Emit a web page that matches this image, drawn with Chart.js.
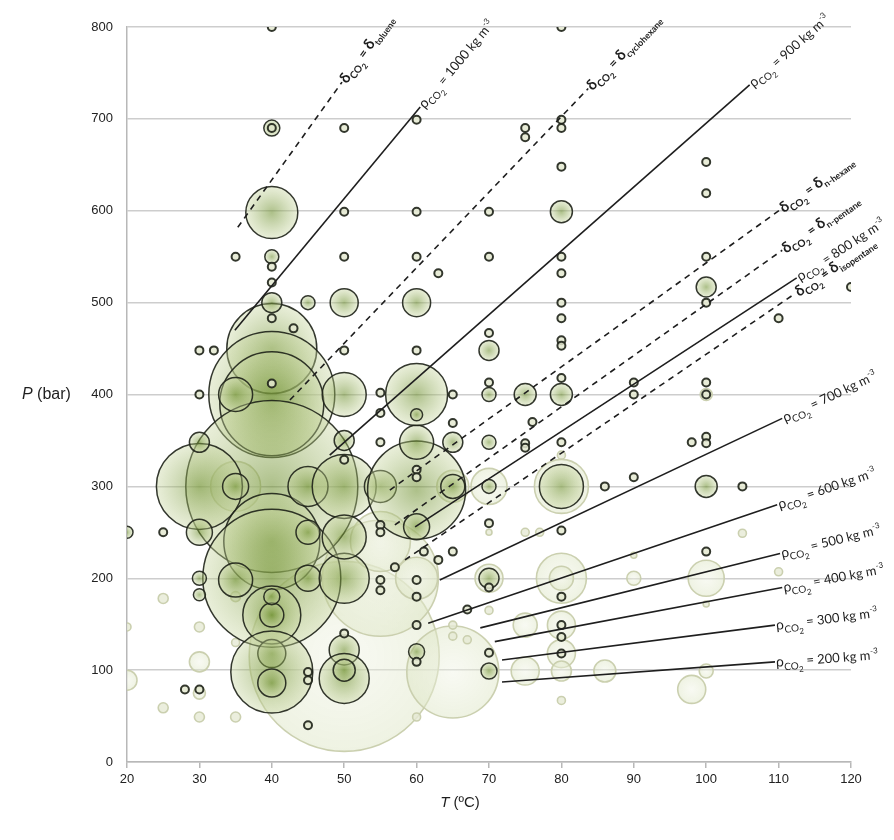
<!DOCTYPE html>
<html>
<head>
<meta charset="utf-8">
<script src="https://cdn.jsdelivr.net/npm/chart.js@4.4.1/dist/chart.umd.min.js"></script>
<style>
  html, body { margin: 0; padding: 0; background: #fff; }
  #wrap { width: 894px; height: 840px; position: relative; }
</style>
</head>
<body>
<div id="wrap"><canvas id="myChart" width="894" height="840"></canvas></div>
<script>
// axis ticks
const tempTicks = [20, 30, 40, 50, 60, 70, 80, 90, 100, 110, 120];
const pressTicks = [0, 100, 200, 300, 400, 500, 600, 700, 800];

// experiments with dark outline: [T (ºC), P (bar), bubble size]
const runsDark = [
  [40,450,45],[40,400,63],[40,390,52],[40,300,86],[30,300,43],[40,240,48],[40,200,69],
  [40,160,29],[40,160,12],[40,118,14],[40,98,41],[40,86,14],[35,400,17],[50,400,22],
  [40,500,10],[45,500,7],[50,500,14],[60,500,14],[30,348,10],[50,350,10],[35,300,13],
  [45,300,20],[50,300,32],[55,300,16],[60,296,49],[60,256,13],[60,348,17],[65,348,10],
  [60,400,31],[65,300,12],[70,300,7],[80,300,22],[100,300,11],[30,250,13],[35,198,17],
  [45,200,13],[50,200,25],[50,245,22],[50,122,15],[50,91,25],[50,100,11],[40,598,26],
  [80,599,11],[100,517,10],[70,448,10],[70,400,7],[75,400,11],[80,400,11],[70,348,7],
  [70,200,10],[60,120,8],[70,99,8],[40,690,8],[40,550,7],[60,378,6],[20,250,6],
  [30,200,7],[30,182,6],[40,180,8],[45,250,12],
  [40,800,4],[80,800,4],[40,690,4],[50,690,4],[60,699,4],[75,690,4],[75,680,4],[80,699,4],
  [80,690,4],[80,648,4],[100,653,4],[100,619,4],[50,599,4],[60,599,4],[70,599,4],[35,550,4],
  [40,539,4],[40,522,4],[50,550,4],[60,550,4],[70,550,4],[80,550,4],[63,532,4],[80,532,4],
  [100,550,4],[80,500,4],[100,500,4],[80,483,4],[110,483,4],[70,467,4],[80,459,4],[80,453,4],
  [60,448,4],[30,448,4],[32,448,4],[50,448,4],[40,483,4],[43,472,4],[40,412,4],[55,402,4],
  [55,380,4],[65,400,4],[65,369,4],[70,413,4],[76,370,4],[80,418,4],[90,413,4],[90,400,4],
  [100,413,4],[100,400,4],[55,348,4],[75,347,4],[75,342,4],[80,348,4],[98,348,4],[100,354,4],
  [100,347,4],[90,310,4],[50,329,4],[60,318,4],[60,310,4],[86,300,4],[105,300,4],[55,258,4],
  [55,250,4],[70,260,4],[80,252,4],[25,250,4],[61,229,4],[65,229,4],[63,220,4],[57,212,4],
  [55,198,4],[55,187,4],[60,198,4],[60,180,4],[80,180,4],[70,190,4],[100,229,4],[67,166,4],
  [60,149,4],[80,149,4],[80,136,4],[80,118,4],[70,119,4],[60,109,4],[50,140,4],[45,98,4],
  [45,89,4],[28,79,4],[30,79,4],[45,40,4],[120,517,4],[30,400,4]
];

// experiments with pale outline: [T (ºC), P (bar), bubble size]
const runsPale = [
  [50,115,95],[65,98,46],[55,200,58],[55,240,30],[60,200,21],[70,300,18],[80,300,27],
  [65,300,16],[80,200,25],[80,200,12],[70,200,14],[100,200,18],[90,200,7],[75,149,12],
  [80,149,14],[80,118,14],[75,99,14],[80,99,10],[86,99,11],[100,99,7],[98,79,14],
  [35,300,25],[20,89,10],[30,109,10],[30,75,6],[25,178,5],[30,147,5],[20,147,4],
  [25,59,5],[30,49,5],[35,49,5],[35,180,5],[35,130,4],[80,67,4],[60,49,4],[65,149,4],
  [65,137,4],[67,133,4],[70,165,4],[75,250,4],[77,250,4],[70,250,3],[80,334,4],
  [105,249,4],[110,207,4],[90,225,3],[100,172,3],[100,400,6]
];

// reference lines: density isochores (numbers) and solubility-parameter matches (solvents)
const lineNames  = ['toluene','1000','cyclohexane','900','n-hexane','n-pentane','800','isopentane','700','600','500','400','300','200'];
const lineStartT = [35.3, 34.9, 42.5, 48.0, 56.3, 57.0, 59.8, 58.4, 63.2, 61.6, 68.8, 70.8, 71.8, 71.8];
const lineStartP = [582, 470, 394, 334, 296, 258, 256, 220, 198, 151, 146, 131, 111, 87];
const lineEndT   = [49.7, 60.5, 83.7, 106.0, 110.2, 110.5, 112.5, 112.3, 110.5, 109.8, 110.2, 110.5, 109.5, 109.5];
const lineEndP   = [740, 713, 733, 737, 601, 557, 527, 510, 374, 280, 227, 190, 149, 109];

const isDensity = (name) => /^\d+$/.test(name);

function bubbleFill(c, inner, outer, smallFill) {
  if (c.type !== 'data' || !c.raw) return outer;
  const r = c.raw.r;
  if (r <= 5) return smallFill;
  const sx = c.chart.scales.x, sy = c.chart.scales.y;
  if (!sx || !sy) return outer;
  const x = sx.getPixelForValue(c.raw.x), y = sy.getPixelForValue(c.raw.y);
  if (!Number.isFinite(x) || !Number.isFinite(y)) return outer;
  const g = c.chart.ctx.createRadialGradient(x, y, 0, x, y, r);
  g.addColorStop(0, inner);
  g.addColorStop(1, outer);
  return g;
}

const toPts = (arr) => arr.map(([x, y, r]) => ({ x: x, y: y, r: r }));

const datasets = [];
lineNames.forEach((name, i) => {
  datasets.push({
    type: 'line',
    label: name,
    data: [{ x: lineStartT[i], y: lineStartP[i] }, { x: lineEndT[i], y: lineEndP[i] }],
    borderColor: '#1e1e1e',
    borderWidth: 1.6,
    borderDash: isDensity(name) ? [] : [6, 5],
    pointRadius: 0,
    fill: false,
    tension: 0,
    clip: false,
    order: 0
  });
});
datasets.push({
  label: 'dark',
  data: toPts(runsDark),
  backgroundColor: (c) => bubbleFill(c, 'rgba(105,140,40,0.55)', 'rgba(200,214,160,0.4)', 'rgba(228,233,208,0.85)'),
  borderColor: 'rgba(30,34,24,0.9)',
  borderWidth: (c) => (c.raw && c.raw.r <= 5 ? 2 : 1.5),
  order: 1
});
datasets.push({
  label: 'pale',
  data: toPts(runsPale),
  backgroundColor: (c) => bubbleFill(c, 'rgba(240,243,228,0.45)', 'rgba(222,230,198,0.5)', 'rgba(230,234,212,0.8)'),
  borderColor: 'rgba(200,206,172,0.95)',
  borderWidth: 1.6,
  order: 2
});

const labelFamily = 'Lato, "Open Sans", sans-serif';
const axisFamily = '"Liberation Sans", Arial, sans-serif';

function drawRich(ctx, parts) {
  let x = 0;
  for (const [t, size, dy, weight] of parts) {
    ctx.font = (weight || '') + ' ' + size + 'px ' + labelFamily;
    ctx.fillText(t, x, dy);
    x += ctx.measureText(t).width;
  }
}

const overlayPlugin = {
  id: 'overlay',
  afterDraw(chart) {
    const ctx = chart.ctx, sx = chart.scales.x, sy = chart.scales.y;
    ctx.save();
    ctx.fillStyle = '#1e1e1e';
    ctx.textBaseline = 'alphabetic';
    ctx.textAlign = 'left';
    lineNames.forEach((name, i) => {
      const x1 = sx.getPixelForValue(lineStartT[i]), y1 = sy.getPixelForValue(lineStartP[i]);
      const x2 = sx.getPixelForValue(lineEndT[i]), y2 = sy.getPixelForValue(lineEndP[i]);
      const a = Math.atan2(y2 - y1, x2 - x1);
      ctx.save();
      ctx.translate(x2, y2);
      ctx.rotate(a);
      ctx.translate(1, 5);
      if (isDensity(name)) {
        drawRich(ctx, [['ρ',14,0,''],['CO',10,4,''],['2',8,7,''],[' = ' + name + ' kg m',13,0,''],['-3',8,-6,'']]);
      } else {
        drawRich(ctx, [['δ',15,0,'bold'],['CO',10,4,'bold'],['2',8,7,'bold'],[' = ',13,0,'bold'],['δ',15,0,'bold'],[name,9,4,'bold']]);
      }
      ctx.restore();
    });
    // axis titles
    ctx.textBaseline = 'middle';
    ctx.font = 'italic 16px ' + axisFamily;
    const yMid = sy.getPixelForValue(400);
    ctx.fillText('P', 22, yMid);
    let w = ctx.measureText('P').width;
    ctx.font = '16px ' + axisFamily;
    ctx.fillText(' (bar)', 22 + w, yMid);
    const xMid = sx.getPixelForValue(66);
    ctx.font = 'italic 15px ' + axisFamily;
    const wT = ctx.measureText('T').width;
    ctx.font = '15px ' + axisFamily;
    const wR = ctx.measureText(' (ºC)').width;
    const x0 = xMid - (wT + wR) / 2;
    ctx.font = 'italic 15px ' + axisFamily;
    ctx.fillText('T', x0, 803);
    ctx.font = '15px ' + axisFamily;
    ctx.fillText(' (ºC)', x0 + wT, 803);
    ctx.restore();
  }
};

const ctx = document.getElementById('myChart').getContext('2d');
const myChart = new Chart(ctx, {
  type: 'bubble',
  data: { datasets: datasets },
  options: {
    responsive: false,
    animation: false,
    events: [],
    layout: { autoPadding: false, padding: { left: 0, right: 43, top: 27, bottom: 0 } },
    plugins: { legend: { display: false }, tooltip: { enabled: false }, title: { display: false } },
    scales: {
      x: {
        type: 'linear',
        min: tempTicks[0],
        max: tempTicks[tempTicks.length - 1],
        afterBuildTicks: (s) => { s.ticks = tempTicks.map((v) => ({ value: v })); },
        ticks: { color: '#222', font: { family: axisFamily, size: 13 }, padding: 4 },
        grid: { drawOnChartArea: false, drawTicks: true, tickLength: 6, color: '#b8b8b8', lineWidth: 1.5 },
        border: { display: true, color: '#b8b8b8', width: 1.5 },
        afterFit: (s) => { s.height = 78; }
      },
      y: {
        type: 'linear',
        min: pressTicks[0],
        max: pressTicks[pressTicks.length - 1],
        afterBuildTicks: (s) => { s.ticks = pressTicks.map((v) => ({ value: v })); },
        ticks: { color: '#222', font: { family: axisFamily, size: 13 }, padding: 14 },
        grid: { color: '#cdcdcd', lineWidth: 1.5, drawTicks: false },
        border: { display: true, color: '#b8b8b8', width: 1.5 },
        afterFit: (s) => { s.width = 127; }
      }
    }
  },
  plugins: [overlayPlugin]
});
</script>
</body>
</html>
